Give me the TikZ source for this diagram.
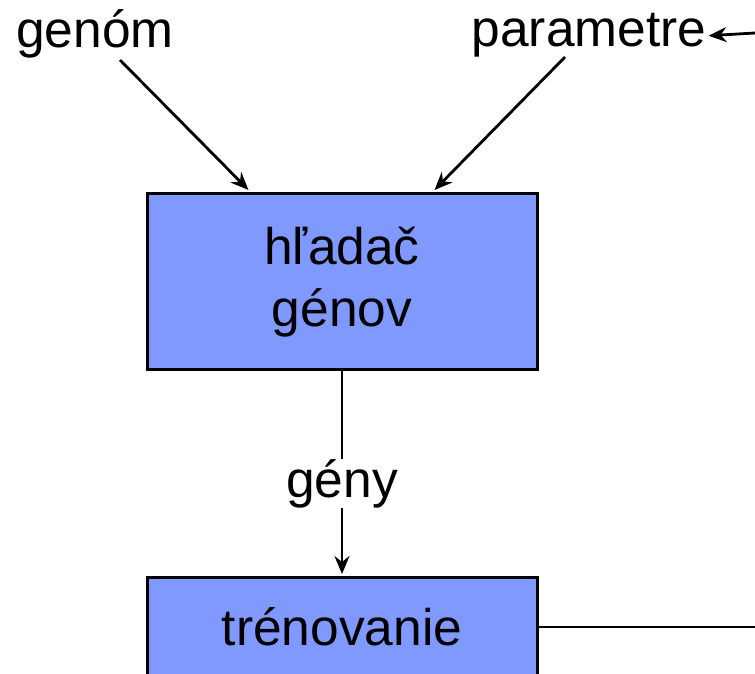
\documentclass[tikz,border=0pt]{standalone}
\usepackage{fontspec}
\setmainfont{Liberation Sans}
\usetikzlibrary{arrows.meta,calc}
\definecolor{boxblue}{RGB}{128,153,255}
\begin{document}
\begin{tikzpicture}[x=1pt,y=-1pt,
  every node/.style={font=\fontsize{51.5}{62}\selectfont, inner sep=0pt},
  blockbox/.style={draw=black, line width=3pt, fill=boxblue, minimum width=390pt},
  conn/.style={line width=2.8pt, -{Stealth[length=18pt,width=15pt,inset=6pt]}},
  plain/.style={line width=2.8pt}]
\useasboundingbox (0,0) rectangle (755,674);
\clip (0,0) rectangle (755,674);
% nodes
\node[anchor=base] (genom) at (95,48) {genóm};
\node[anchor=base] (param) at (589,47) {parametre};
\node[blockbox, minimum height=176pt, align=center] (hladac) at (342,281) {};
\node[align=center] (hltext) at (342,282) {hľadač\\génov};
\node[blockbox, minimum height=200pt] (train) at (342,677) {};
\node[anchor=base] (trtext) at (342,645) {trénovanie};
\node[anchor=base, fill=white] (geny) at (342,497) {gény};
% free ends
\coordinate (g1) at (120,60);
\coordinate (p1) at (565,57);
\coordinate (rin) at (755,33);
\coordinate (rout) at (755,627);
% connectors
\draw[conn] (g1) -- ($(hladac.north west)+(103,-1.5)$);
\draw[conn] (p1) -- ($(hladac.north east)+(-104,-1.5)$);
\draw[conn] (rin) -- ($(param.east)+(2,0)$ |- rin);
\draw[plain] (hladac.south) -- (geny.north);
\draw[conn] (geny.south) -- ($(train.north)+(0,-1.5)$);
\draw[plain] (train.east |- rout) -- (rout);
\end{tikzpicture}
\end{document}
